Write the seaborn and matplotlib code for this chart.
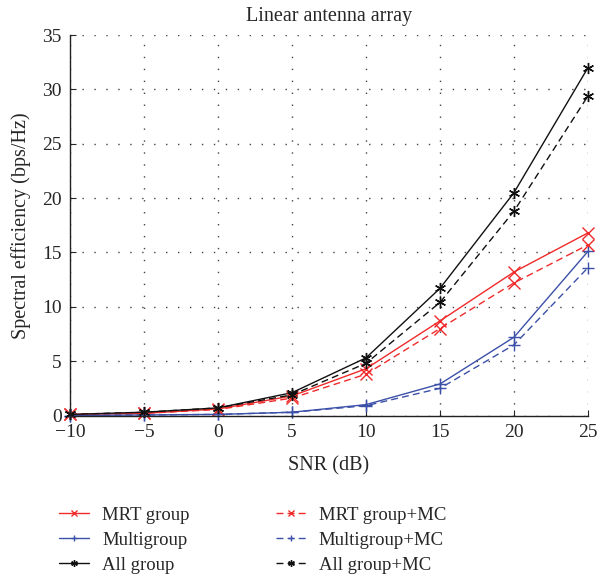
import matplotlib
matplotlib.use("Agg")
import matplotlib.pyplot as plt
import seaborn as sns
import pandas as pd

snr = [-10, -5, 0, 5, 10, 15, 20, 25]
mrt = [0.1, 0.2, 0.6, 1.8, 4.3, 8.7, 13.2, 16.8]
mrt_mc = [0.1, 0.2, 0.55, 1.6, 3.8, 8.0, 12.2, 15.7]
multi = [0.0, 0.05, 0.1, 0.3, 1.0, 2.9, 7.2, 15.1]
multi_mc = [0.0, 0.05, 0.1, 0.3, 0.9, 2.5, 6.5, 13.6]
allg = [0.1, 0.3, 0.7, 2.1, 5.3, 11.7, 20.5, 32.0]
allg_mc = [0.1, 0.3, 0.7, 1.9, 4.8, 10.4, 18.8, 29.4]

sns.set_style("ticks")
plt.rcParams['font.family'] = ['Liberation Serif', 'DejaVu Serif']

fig = plt.figure(figsize=(5.97, 5.8), dpi=100)
ax = fig.add_axes([70/597, 1-415.5/580, (588-70)/597, (415.5-35)/580])

red = '#f02a2a'
blue = '#3b50a8'
black = '#111111'

series = [
    ("MRT group", mrt, red, 'x', '-'),
    ("Multigroup", multi, blue, '+', '-'),
    ("All group", allg, black, (6, 2, 0), '-'),
    ("MRT group+MC", mrt_mc, red, 'x', (0, (5, 3))),
    ("Multigroup+MC", multi_mc, blue, '+', (0, (5, 3))),
    ("All group+MC", allg_mc, black, (6, 2, 0), (0, (5, 3))),
]
for name, vals, c, m, ls in series:
    df = pd.DataFrame({"SNR": snr, "SE": vals})
    sns.lineplot(data=df, x="SNR", y="SE", ax=ax, color=c, marker=m, linestyle=ls,
                 linewidth=1.0, markersize=8, markeredgewidth=1.0, label=name,
                 markeredgecolor=c, markerfacecolor='none', clip_on=False)

ax.set_xlim(-10, 25)
ax.set_ylim(0, 35)
ax.set_xticks([-10, -5, 0, 5, 10, 15, 20, 25])
ax.set_xticklabels(['\u221210', '\u22125', '0', '5', '10', '15', '20', '25'])
ax.set_yticks([0, 5, 10, 15, 20, 25, 30, 35])
ax.grid(True, linestyle=(0, (1, 7.6)), color='#444444', linewidth=1.0)
ax.tick_params(direction='in', labelsize=14, length=4, width=0.8, pad=6)
ax.spines['top'].set_visible(False)
ax.spines['right'].set_visible(False)
for s in ['left', 'bottom']:
    ax.spines[s].set_linewidth(1.0)
    ax.spines[s].set_color('#222222')
ax.set_xlabel("SNR (dB)", fontsize=14.5, labelpad=11)
ax.set_ylabel("Spectral efficiency (bps/Hz)", fontsize=14.5, labelpad=8)
ax.set_title("Linear antenna array", fontsize=14.5, pad=10)

handles, labels = ax.get_legend_handles_labels()
ax.legend_.remove()
leg = fig.legend(handles, labels, loc='upper left', bbox_to_anchor=(42/597, 1-490/580),
                 ncol=2, frameon=False, fontsize=13.5, handlelength=1.6, markerscale=0.6,
                 columnspacing=4.6, labelspacing=0.42, handletextpad=0.7)

fig.savefig("out.png", dpi=100)
